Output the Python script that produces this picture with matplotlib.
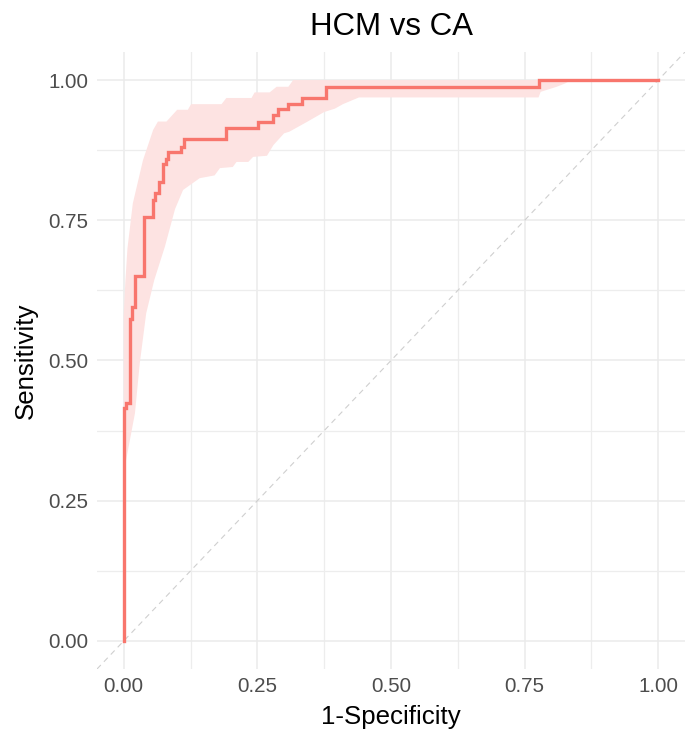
import matplotlib
matplotlib.use("Agg")
import matplotlib.pyplot as plt
import numpy as np
from matplotlib.ticker import MultipleLocator

# ROC curve (1-specificity, sensitivity) corner points, step-post
fpr = [0, 0, 0.004, 0.011, 0.015, 0.021, 0.038, 0.054, 0.058, 0.066, 0.074, 0.079,
       0.083, 0.108, 0.112, 0.192, 0.252, 0.280, 0.289, 0.308, 0.334, 0.378, 0.776, 1.0]
sens = [0, 0.415, 0.425, 0.574, 0.596, 0.651, 0.755, 0.786, 0.798, 0.819, 0.851, 0.860,
        0.872, 0.880, 0.895, 0.915, 0.926, 0.938, 0.948, 0.957, 0.968, 0.988, 1.0, 1.0]

# Confidence band edges
upper_x = [0, 0, 0.003, 0.007, 0.017, 0.036, 0.055, 0.064, 0.08, 0.10, 0.12, 0.126, 0.183,
           0.192, 0.239, 0.245, 0.273, 0.286, 0.308, 0.317, 1.0]
upper_y = [0.31, 0.58, 0.64, 0.70, 0.78, 0.857, 0.911, 0.926, 0.926, 0.947, 0.947, 0.957,
           0.957, 0.968, 0.968, 0.978, 0.978, 0.988, 0.988, 1.0, 1.0]
lower_x = [0, 0.002, 0.021, 0.030, 0.042, 0.057, 0.077, 0.096, 0.111, 0.142, 0.17, 0.18,
           0.204, 0.211, 0.233, 0.242, 0.268, 0.280, 0.30, 0.31, 0.344, 0.375, 0.395,
           0.41, 0.44, 0.776, 0.78, 0.81, 0.826, 0.837, 1.0]
lower_y = [0.31, 0.31, 0.406, 0.495, 0.584, 0.643, 0.703, 0.770, 0.804, 0.825, 0.83, 0.843,
           0.845, 0.854, 0.854, 0.863, 0.865, 0.884, 0.905, 0.908, 0.926, 0.943, 0.949,
           0.957, 0.969, 0.969, 0.979, 0.988, 0.994, 1.0, 1.0]

ticks = [0.00, 0.25, 0.50, 0.75, 1.00]
tick_labels = ["0.00", "0.25", "0.50", "0.75", "1.00"]

plt.rcParams['font.family'] = ['Liberation Sans', 'DejaVu Sans']

fig = plt.figure(figsize=(6.90, 7.34), dpi=100)
ax = fig.add_axes([97/690, 1-669/734, (685-97)/690, (669-52)/734])

line_col = "#F8766D"
band_col = "#FDE3E2"

# band polygon
poly_x = list(upper_x) + list(lower_x[::-1])
poly_y = list(upper_y) + list(lower_y[::-1])
ax.fill(poly_x, poly_y, color=band_col, lw=0, zorder=2)

ax.axline((0, 0), slope=1, color="#CFCFCF", lw=0.8, ls=(0, (5, 4)), zorder=1)
ax.plot(fpr, sens, drawstyle="steps-post", color=line_col, lw=2.4, zorder=3,
        solid_joinstyle="miter")

ax.set_xlim(-0.05, 1.05)
ax.set_ylim(-0.05, 1.05)
ax.set_xticks(ticks)
ax.set_xticklabels(tick_labels)
ax.set_yticks(ticks)
ax.set_yticklabels(tick_labels)
ax.xaxis.set_minor_locator(MultipleLocator(0.125))
ax.yaxis.set_minor_locator(MultipleLocator(0.125))
ax.grid(which="major", color="#EBEBEB", lw=1.1, zorder=0)
ax.grid(which="minor", color="#EDEDED", lw=0.9, zorder=0)
ax.set_axisbelow(True)
for s in ax.spines.values():
    s.set_visible(False)
ax.tick_params(which="both", length=0, labelsize=14.8, colors="#4D4D4D", pad=6)

ax.set_xlabel("1-Specificity", fontsize=18.6, color="black", labelpad=6)
ax.set_ylabel("Sensitivity", fontsize=18.6, color="black", labelpad=8)
ax.set_title("HCM vs CA", fontsize=22.5, color="black", pad=12)

fig.savefig("out.png", dpi=100, facecolor="white")
